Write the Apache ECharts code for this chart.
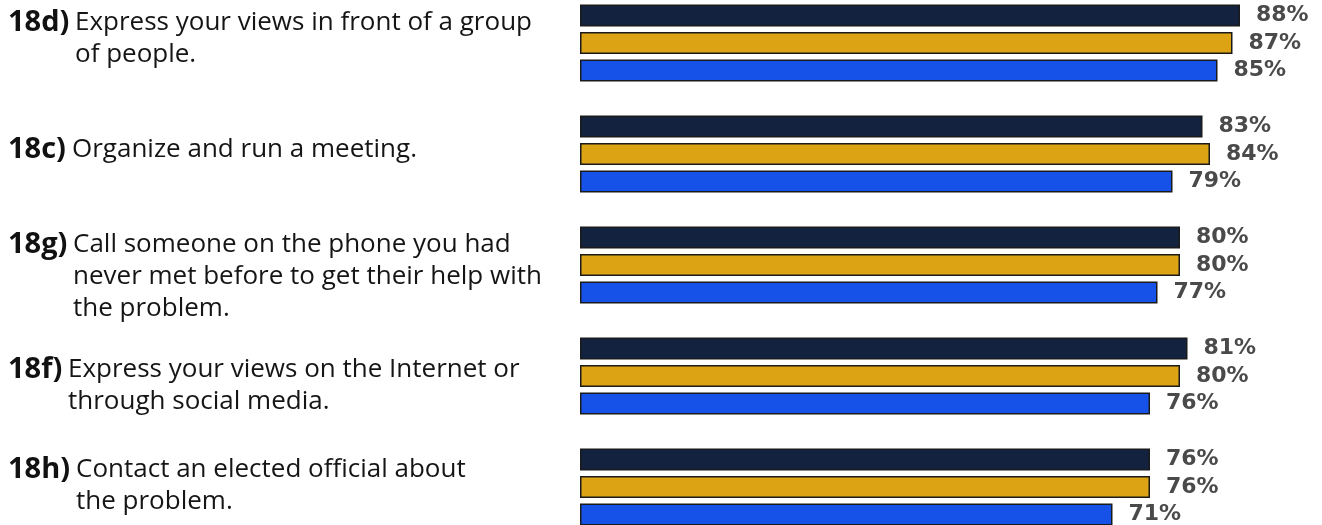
<!DOCTYPE html>
<html>
<head>
<meta charset="utf-8">
<script src="https://cdn.jsdelivr.net/npm/echarts@6/dist/echarts.min.js"></script>
<style>
  html, body { margin: 0; padding: 0; background: #ffffff; }
  #chart { width: 1322px; height: 525px; }
</style>
</head>
<body>
<div id="chart"></div>
<script>
// Survey items (question code + wrapped wording)
const itemCodes = ['18d)', '18c)', '18g)', '18f)', '18h)'];
const itemLines = [
  ['Express your views in front of a group', 'of people.'],
  ['Organize and run a meeting.'],
  ['Call someone on the phone you had', 'never met before to get their help with', 'the problem.'],
  ['Express your views on the Internet or', 'through social media.'],
  ['Contact an elected official about', 'the problem.']
];

// Share answering "yes" (%), one array per group
const seriesNames = ['Group A', 'Group B', 'Group C'];
const valuesA = [88, 83, 80, 81, 76];
const valuesB = [87, 84, 80, 80, 76];
const valuesC = [85, 79, 77, 76, 71];

const colors = ['#13233f', '#dca314', '#1752e8'];

// Text styling for the item labels
const codeFont = { fontFamily: 'Open Sans', fontWeight: 'bold', fontSize: 29 };
const bodyFont = { fontFamily: 'Open Sans', fontWeight: 'normal', fontSize: 26 };
const lineH = 32;

// Vertical nudges for the multi-line item labels (px padding top / bottom)
const labelNudge = [[0, 0, 8, 0], [0, 0, 8, 0], [24, 0, 0, 0], [20, 0, 0, 0], [0, 0, 2, 0]];

// Hanging indent: continuation lines start where the wording after the code starts
const measureCtx = document.createElement('canvas').getContext('2d');
measureCtx.font = codeFont.fontWeight + ' ' + codeFont.fontSize + 'px "' + codeFont.fontFamily + '"';
const rich = {
  t: Object.assign({ lineHeight: lineH, color: '#151515', align: 'left', verticalAlign: 'middle' }, bodyFont)
};
itemCodes.forEach((code, i) => {
  const w = Math.round(measureCtx.measureText(code).width) + 6;
  rich['b' + i] = Object.assign({ lineHeight: lineH, color: '#111111', width: w, align: 'left', verticalAlign: 'middle' }, codeFont);
  rich['i' + i] = { fontSize: bodyFont.fontSize, lineHeight: lineH, width: w, align: 'left' };
});

const yData = itemCodes.map((c, i) => ({
  value: c,
  textStyle: { padding: labelNudge[i], align: 'left' }
}));

function itemLabel(code) {
  const i = itemCodes.indexOf(code);
  return itemLines[i].map((ln, k) =>
    (k === 0 ? '{b' + i + '|' + code + '}' : '{i' + i + '| }') + '{t|' + ln + '}'
  ).join('\n');
}

function makeSeries(name, data, color) {
  return {
    name: name,
    type: 'bar',
    data: data,
    barWidth: 22,
    barGap: '25%',
    itemStyle: { color: color, borderColor: '#1a1a1a', borderWidth: 1.5 },
    label: {
      show: true,
      position: 'right',
      distance: 16,
      formatter: '{c}%',
      fontFamily: 'DejaVu Sans',
      fontWeight: 'bold',
      fontSize: 22,
      color: '#4a4a4a'
    },
    emphasis: { disabled: true }
  };
}

const chart = echarts.init(document.getElementById('chart'), null, { renderer: 'canvas' });
chart.setOption({
  animation: false,
  backgroundColor: '#ffffff',
  grid: {
    left: 580, right: 37, top: -12.5, bottom: -17.5,
    containLabel: false,
    outerBoundsMode: 'none'
  },
  xAxis: {
    type: 'value',
    min: 0,
    max: 94,
    show: false
  },
  yAxis: {
    type: 'category',
    inverse: true,
    data: yData,
    axisLine: { show: false },
    axisTick: { show: false },
    splitLine: { show: false },
    axisLabel: {
      align: 'left',
      margin: 572,
      hideOverlap: false,
      formatter: itemLabel,
      rich: rich
    }
  },
  series: [
    makeSeries(seriesNames[0], valuesA, colors[0]),
    makeSeries(seriesNames[1], valuesB, colors[1]),
    makeSeries(seriesNames[2], valuesC, colors[2])
  ]
});
</script>
</body>
</html>
